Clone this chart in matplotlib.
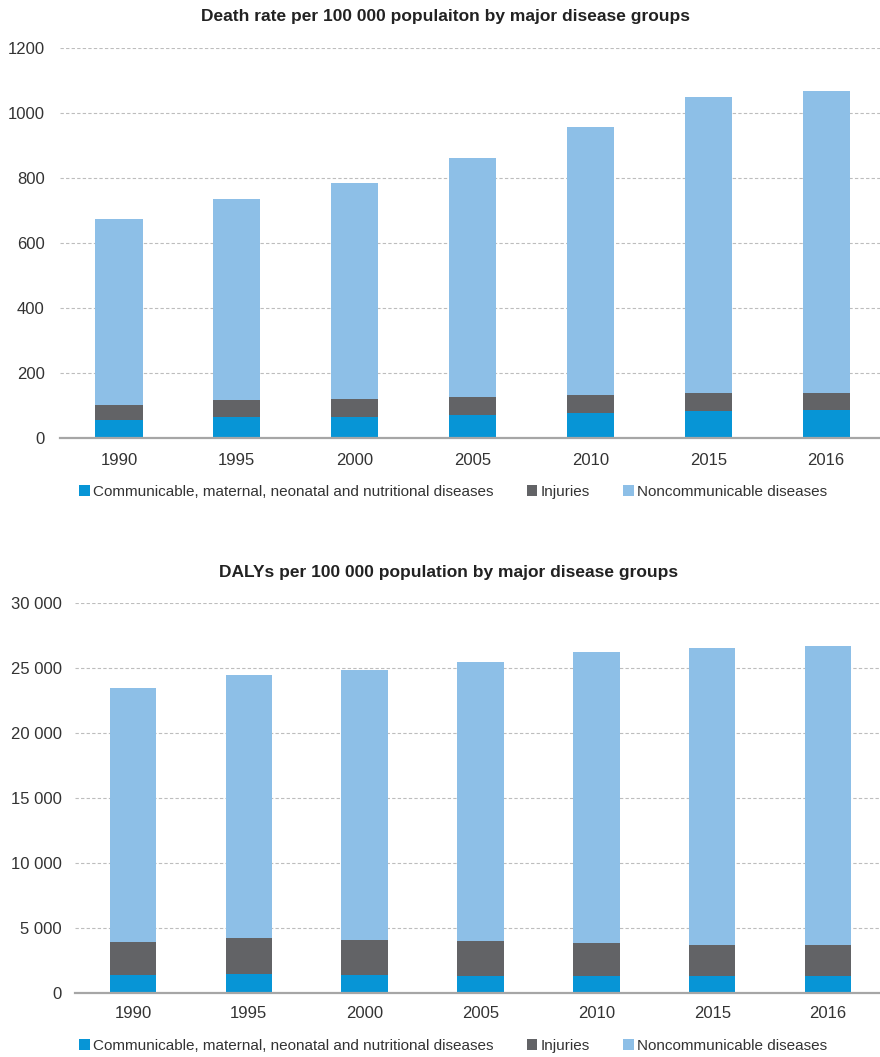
import numpy as np
import matplotlib.pyplot as plt
from matplotlib.patches import Patch
from matplotlib.ticker import FuncFormatter

plt.rcParams['font.family'] = ['Liberation Sans', 'DejaVu Sans']

# Data
years = ['1990', '1995', '2000', '2005', '2010', '2015', '2016']

death_communicable = [55, 65, 65, 70, 77, 83, 85]
death_injuries = [46, 53, 55, 56, 55, 54, 55]
death_noncommunicable = [573, 617, 664, 737, 826, 911, 929]

daly_communicable = [1360, 1440, 1360, 1300, 1280, 1280, 1280]
daly_injuries = [2540, 2790, 2740, 2720, 2590, 2440, 2440]
daly_noncommunicable = [19600, 20265, 20780, 21470, 22330, 22810, 22960]

labels = ['Communicable, maternal, neonatal and nutritional diseases',
          'Injuries', 'Noncommunicable diseases']
colors = ['#0795D6', '#626366', '#8DBFE7']
text_color = '#333333'

fig = plt.figure(figsize=(8.8, 10.57), dpi=100)
ax1 = fig.add_axes([60 / 880, 1 - 438 / 1057, 825 / 880, 390 / 1057])
ax2 = fig.add_axes([75 / 880, 1 - 993 / 1057, 811 / 880, 390 / 1057])


def draw(ax, c, i, n, ymax, step, fmt, ypad, xpad):
    x = np.arange(len(years))
    c = np.array(c)
    i = np.array(i)
    n = np.array(n)
    ax.bar(x, c, width=0.4, color=colors[0], zorder=3)
    ax.bar(x, i, width=0.4, bottom=c, color=colors[1], zorder=3)
    ax.bar(x, n, width=0.4, bottom=c + i, color=colors[2], zorder=3)
    ax.set_xlim(-0.5, len(years) - 0.5)
    ax.set_ylim(0, ymax)
    ax.set_yticks(np.arange(0, ymax + 1, step))
    ax.yaxis.set_major_formatter(FuncFormatter(fmt))
    ax.set_xticks(x)
    ax.set_xticklabels(years)
    ax.grid(axis='y', color='#BDBDBD', linestyle=(0, (3, 2)), linewidth=0.8, zorder=0)
    for s in ['top', 'right', 'left']:
        ax.spines[s].set_visible(False)
    ax.spines['bottom'].set_color('#A6A6A6')
    ax.spines['bottom'].set_linewidth(1.6)
    ax.spines['bottom'].set_zorder(4)
    ax.tick_params(axis='both', length=0, labelsize=12, colors=text_color)
    ax.tick_params(axis='y', pad=ypad)
    ax.tick_params(axis='x', pad=xpad)


draw(ax1, death_communicable, death_injuries, death_noncommunicable,
     1200, 200, lambda v, p: f'{int(v)}', 11, 11)
draw(ax2, daly_communicable, daly_injuries, daly_noncommunicable,
     30000, 5000, lambda v, p: f'{int(v):,}'.replace(',', ' '), 9.5, 9)

fig.text(0.506, 1 - 17 / 1057, 'Death rate per 100 000 populaiton by major disease groups',
         ha='center', va='center', fontsize=12.5, fontweight='bold', color='#222222')
fig.text(0.51, 1 - 572 / 1057, 'DALYs per 100 000 population by major disease groups',
         ha='center', va='center', fontsize=12.5, fontweight='bold', color='#222222')

handles = [Patch(facecolor=col, label=lab) for col, lab in zip(colors, labels)]
for ypix in [492, 1046]:
    fig.legend(handles=handles, loc='center', bbox_to_anchor=(453 / 880, 1 - ypix / 1057),
               ncol=3, frameon=False, fontsize=11, handlelength=0.7, handleheight=0.7,
               handletextpad=0.2, columnspacing=2.2, labelcolor=text_color)

fig.savefig('out.png', dpi=100)
